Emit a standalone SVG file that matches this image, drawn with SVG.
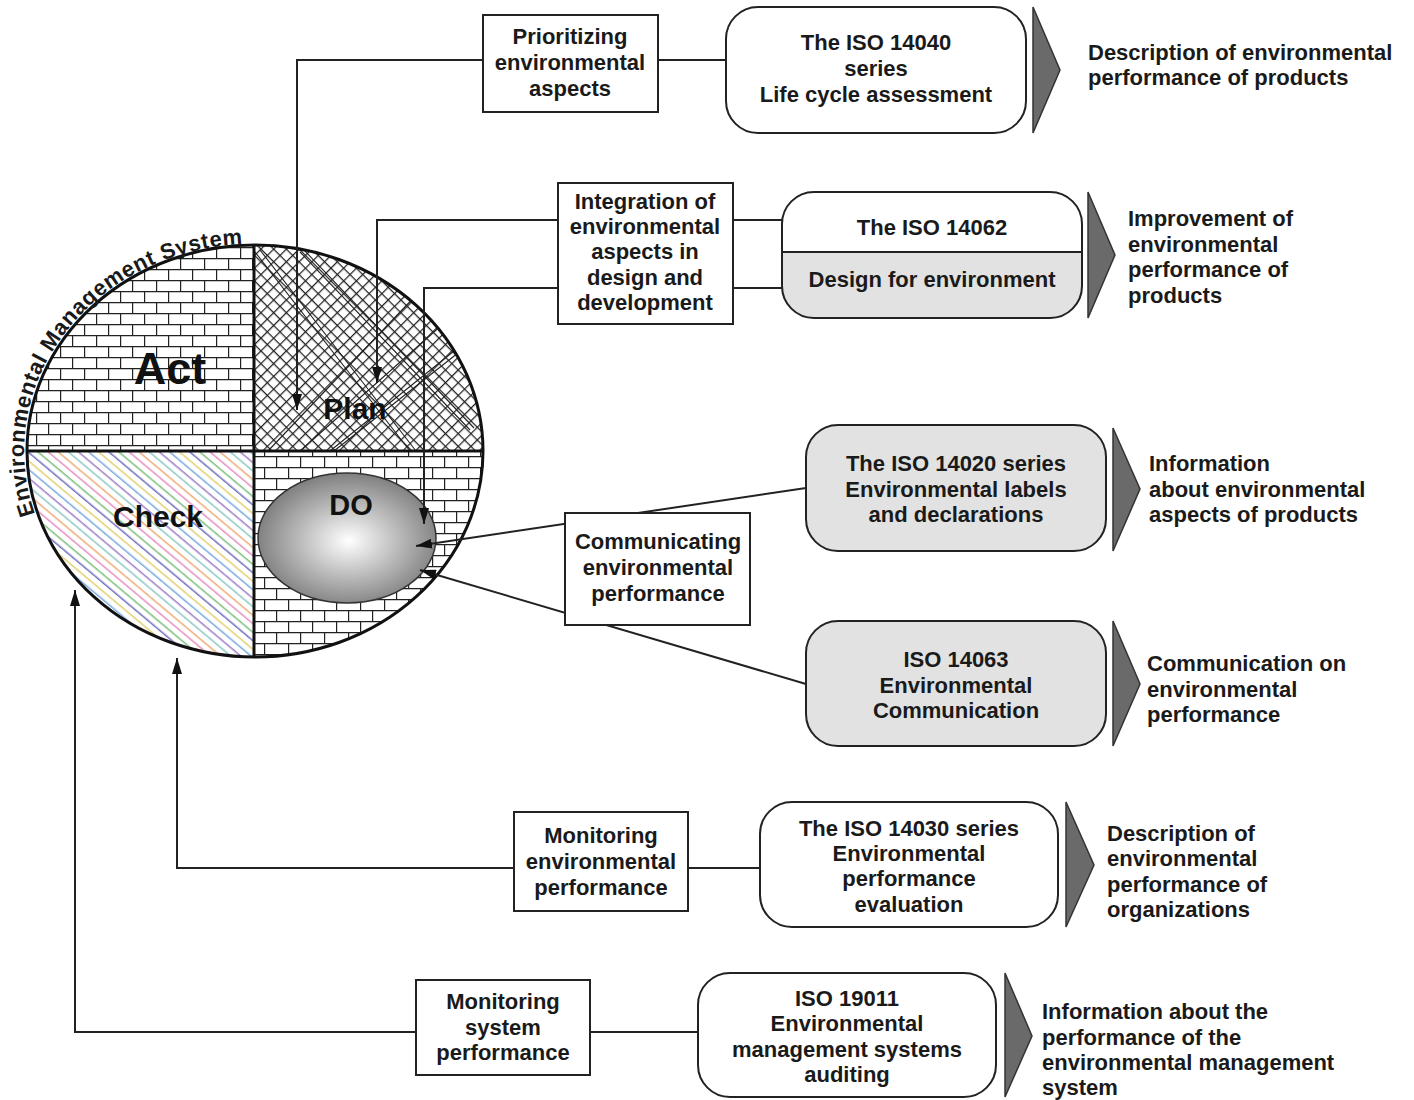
<svg xmlns="http://www.w3.org/2000/svg" width="1414" height="1100" viewBox="0 0 1414 1100">
<style>
.box{fill:#fff;stroke:#222;stroke-width:2}
.gfill{fill:#e2e2e2}
.tri{fill:#6a6a6a;stroke:#333;stroke-width:1.5}
.t{font-family:"Liberation Sans",Arial,sans-serif;font-weight:bold;font-size:22px;fill:#1a1a1a}
.c{text-anchor:middle}
.conn{stroke:#222;stroke-width:2;fill:none}
.big{font-family:"Liberation Sans",Arial,sans-serif;font-weight:bold;fill:#111;text-anchor:middle}
</style>
<defs>
  <pattern id="brick" width="24" height="22" patternUnits="userSpaceOnUse" x="0" y="247">
    <rect width="24" height="22" fill="#fff"/>
    <path d="M0,0.6H24M0,11.6H24M0.6,0V11.6M12.6,11.6V22" stroke="#222" stroke-width="1.2" fill="none"/>
  </pattern>
  <pattern id="hatch" width="9" height="9" patternUnits="userSpaceOnUse" patternTransform="rotate(45)">
    <rect width="9" height="9" fill="#fff"/>
    <path d="M0,0.6H9M0.6,0V9" stroke="#222" stroke-width="1.3" fill="none"/>
  </pattern>
  <pattern id="stripes" width="80" height="52" patternUnits="userSpaceOnUse" patternTransform="rotate(40)">
    <rect width="80" height="52" fill="#fff"/>
    <g stroke-width="1.4" fill="none">
      <path d="M0,3.25H80" stroke="#e48fc0"/>
      <path d="M0,9.75H80" stroke="#7cc07c"/>
      <path d="M0,16.25H80" stroke="#7070bc"/>
      <path d="M0,22.75H80" stroke="#e2d070"/>
      <path d="M0,29.25H80" stroke="#78aade"/>
      <path d="M0,35.75H80" stroke="#9e80c6"/>
      <path d="M0,42.25H80" stroke="#8ccac4"/>
      <path d="M0,48.75H80" stroke="#eeac78"/>
    </g>
  </pattern>
  <radialGradient id="doGrad" cx="0.51" cy="0.52" r="0.55" fx="0.51" fy="0.52">
    <stop offset="0" stop-color="#ffffff"/>
    <stop offset="0.45" stop-color="#c2c2c2"/>
    <stop offset="1" stop-color="#787878"/>
  </radialGradient>
  <clipPath id="circ"><ellipse cx="255" cy="451" rx="228" ry="206"/></clipPath>
  <marker id="arr" viewBox="0 0 16 10" refX="16" refY="5" markerWidth="16" markerHeight="10" markerUnits="userSpaceOnUse" orient="auto">
    <path d="M0,0L16,5L0,10z" fill="#111"/>
  </marker>
  <path id="emsArc" d="M 35,514 A 229 207 0 0 1 255,244"/>
</defs>

<rect width="1414" height="1100" fill="#fff"/>

<!-- PDCA circle -->
<g id="pdca-circle">
  <g clip-path="url(#circ)">
    <rect x="20" y="240" width="234" height="211" fill="url(#brick)"/>
    <rect x="254" y="240" width="234" height="211" fill="url(#hatch)"/>
    <rect x="20" y="451" width="234" height="212" fill="url(#stripes)"/>
    <rect x="254" y="451" width="234" height="212" fill="url(#brick)"/>
    <g stroke="#222" stroke-width="1.1" fill="none">
      <path d="M255,252L410,451M260,250L416,451M300,252L470,430M304,250L474,428"/>
      <path d="M300,451L470,300M330,451L480,330M268,451L440,270M334,451L482,334"/>
    </g>
  </g>
  <path d="M27,451H483M254,245V657" stroke="#111" stroke-width="3" fill="none"/>
  <ellipse cx="255" cy="451" rx="228" ry="206" fill="none" stroke="#111" stroke-width="3"/>
  <ellipse cx="347" cy="538" rx="89" ry="65" fill="url(#doGrad)" stroke="#333" stroke-width="1.5"/>
  <text class="big" x="170" y="384" font-size="45">Act</text>
  <text class="big" x="355" y="419" font-size="30">Plan</text>
  <text class="big" x="158" y="527" font-size="30">Check</text>
  <text class="big" x="351" y="515" font-size="29">DO</text>
  <text class="t" font-size="20.5"><textPath href="#emsArc" textLength="396" lengthAdjust="spacing">Environmental Management System</textPath></text>
</g>

<!-- connectors -->
<g id="connectors">
  <path class="conn" d="M483,60H297V410" marker-end="url(#arr)"/>
  <path class="conn" d="M658,60H726"/>
  <path class="conn" d="M558,220H377V383" marker-end="url(#arr)"/>
  <path class="conn" d="M558,288H424V524" marker-end="url(#arr)"/>
  <path class="conn" d="M733,220H782M733,288H782"/>
  <path class="conn" d="M806,488L416,546" marker-end="url(#arr)"/>
  <path class="conn" d="M806,684L420,570" marker-end="url(#arr)"/>
  <path class="conn" d="M514,868H177V658" marker-end="url(#arr)"/>
  <path class="conn" d="M688,868H760"/>
  <path class="conn" d="M416,1032H75V590" marker-end="url(#arr)"/>
  <path class="conn" d="M590,1032H698"/>
</g>

<!-- row 1 -->
<g id="prioritizing">
  <rect class="box" x="483" y="15" width="175" height="97"/>
  <text class="t c" x="570" y="44">Prioritizing</text>
  <text class="t c" x="570" y="70">environmental</text>
  <text class="t c" x="570" y="96">aspects</text>
</g>
<g id="iso14040">
  <rect class="box" x="726" y="7" width="300" height="126" rx="32"/>
  <text class="t c" x="876" y="50">The ISO 14040</text>
  <text class="t c" x="876" y="76">series</text>
  <text class="t c" x="876" y="102">Life cycle assessment</text>
</g>
<g id="out14040">
  <polygon class="tri" points="1033,7 1060,70 1033,133"/>
  <text class="t" x="1088" y="60" font-size="22.5">Description of environmental</text>
  <text class="t" x="1088" y="85" font-size="22.5">performance of products</text>
</g>

<!-- row 2 -->
<g id="integration">
  <rect class="box" x="558" y="183" width="175" height="141"/>
  <text class="t c" x="645" y="209">Integration of</text>
  <text class="t c" x="645" y="234">environmental</text>
  <text class="t c" x="645" y="259">aspects in</text>
  <text class="t c" x="645" y="285">design and</text>
  <text class="t c" x="645" y="310">development</text>
</g>
<g id="iso14062">
  <rect x="782" y="192" width="300" height="126" rx="32" fill="#fff"/>
  <path class="gfill" d="M782,252H1082V286A32,32 0 0 1 1050,318H814A32,32 0 0 1 782,286Z"/>
  <path d="M782,252H1082" stroke="#222" stroke-width="2"/>
  <rect x="782" y="192" width="300" height="126" rx="32" fill="none" stroke="#222" stroke-width="2"/>
  <text class="t c" x="932" y="235">The ISO 14062</text>
  <text class="t c" x="932" y="287">Design for environment</text>
</g>
<g id="out14062">
  <polygon class="tri" points="1088,192 1115,255 1088,318"/>
  <text class="t" x="1128" y="226">Improvement of</text>
  <text class="t" x="1128" y="252">environmental</text>
  <text class="t" x="1128" y="277">performance of</text>
  <text class="t" x="1128" y="303">products</text>
</g>

<!-- row 3 -->
<g id="iso14020">
  <rect class="box" x="806" y="425" width="300" height="126" rx="32" style="fill:#e2e2e2"/>
  <text class="t c" x="956" y="471">The ISO 14020 series</text>
  <text class="t c" x="956" y="497">Environmental labels</text>
  <text class="t c" x="956" y="522">and declarations</text>
</g>
<g id="out14020">
  <polygon class="tri" points="1113,428 1140,489 1113,551"/>
  <text class="t" x="1149" y="471">Information</text>
  <text class="t" x="1149" y="497">about environmental</text>
  <text class="t" x="1149" y="522">aspects of products</text>
</g>
<g id="communicating">
  <rect class="box" x="565" y="513" width="185" height="112"/>
  <text class="t c" x="658" y="549">Communicating</text>
  <text class="t c" x="658" y="575">environmental</text>
  <text class="t c" x="658" y="601">performance</text>
</g>
<g id="iso14063">
  <rect class="box" x="806" y="621" width="300" height="125" rx="32" style="fill:#e2e2e2"/>
  <text class="t c" x="956" y="667">ISO 14063</text>
  <text class="t c" x="956" y="693">Environmental</text>
  <text class="t c" x="956" y="718">Communication</text>
</g>
<g id="out14063">
  <polygon class="tri" points="1113,621 1140,684 1113,746"/>
  <text class="t" x="1147" y="671">Communication on</text>
  <text class="t" x="1147" y="697">environmental</text>
  <text class="t" x="1147" y="722">performance</text>
</g>

<!-- row 4 -->
<g id="monitoring-env">
  <rect class="box" x="514" y="812" width="174" height="99"/>
  <text class="t c" x="601" y="843">Monitoring</text>
  <text class="t c" x="601" y="869">environmental</text>
  <text class="t c" x="601" y="895">performance</text>
</g>
<g id="iso14030">
  <rect class="box" x="760" y="802" width="298" height="125" rx="32"/>
  <text class="t c" x="909" y="836">The ISO 14030 series</text>
  <text class="t c" x="909" y="861">Environmental</text>
  <text class="t c" x="909" y="886">performance</text>
  <text class="t c" x="909" y="912">evaluation</text>
</g>
<g id="out14030">
  <polygon class="tri" points="1066,802 1094,865 1066,927"/>
  <text class="t" x="1107" y="841">Description of</text>
  <text class="t" x="1107" y="866">environmental</text>
  <text class="t" x="1107" y="892">performance of</text>
  <text class="t" x="1107" y="917">organizations</text>
</g>

<!-- row 5 -->
<g id="monitoring-sys">
  <rect class="box" x="416" y="980" width="174" height="95"/>
  <text class="t c" x="503" y="1009">Monitoring</text>
  <text class="t c" x="503" y="1035">system</text>
  <text class="t c" x="503" y="1060">performance</text>
</g>
<g id="iso19011">
  <rect class="box" x="698" y="973" width="298" height="124" rx="32"/>
  <text class="t c" x="847" y="1006">ISO 19011</text>
  <text class="t c" x="847" y="1031">Environmental</text>
  <text class="t c" x="847" y="1057">management systems</text>
  <text class="t c" x="847" y="1082">auditing</text>
</g>
<g id="out19011">
  <polygon class="tri" points="1005,973 1032,1036 1005,1097"/>
  <text class="t" x="1042" y="1019">Information about the</text>
  <text class="t" x="1042" y="1045">performance of the</text>
  <text class="t" x="1042" y="1070">environmental management</text>
  <text class="t" x="1042" y="1095">system</text>
</g>
</svg>
